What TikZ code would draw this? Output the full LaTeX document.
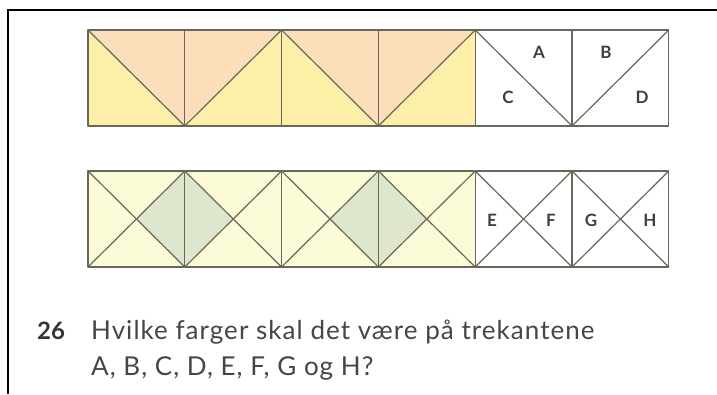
\documentclass[tikz,border=0pt]{standalone}
\usepackage{fontspec}
\setmainfont{Lato}
\definecolor{peach}{RGB}{251,222,186}
\definecolor{yel}{RGB}{253,238,168}
\definecolor{pale}{RGB}{252,251,216}
\definecolor{grn}{RGB}{222,231,206}
\definecolor{edge}{RGB}{105,103,90}
\definecolor{txt}{RGB}{70,70,70}
\tikzset{
  gridline/.style={draw=edge, line width=1.2pt, line join=round},
  lab/.style={font=\fontsize{17}{18}\selectfont\bfseries, text=txt!90!black, inner sep=0pt},
  qtext/.style={font=\fontsize{26}{30}\selectfont\addfontfeatures{LetterSpace=4}, text=txt, anchor=base west, inner sep=0pt},
}
\begin{document}
\begin{tikzpicture}[x=1pt,y=-1pt]
\useasboundingbox (0,0) rectangle (717,394);
\fill[white] (0,0) rectangle (717,394);
\draw[line width=2pt] (717,10) -- (8,10) -- (8,394);

% ---------- top row ----------
\fill[peach] (88,30) -- (184.8,30) -- (184.8,126) -- cycle;
\fill[yel]   (88,30) -- (88,126) -- (184.8,126) -- cycle;
\fill[peach] (184.8,30) -- (281.6,30) -- (184.8,126) -- cycle;
\fill[yel]   (184.8,126) -- (281.6,126) -- (281.6,30) -- cycle;
\fill[peach] (281.6,30) -- (378.4,30) -- (378.4,126) -- cycle;
\fill[yel]   (281.6,30) -- (281.6,126) -- (378.4,126) -- cycle;
\fill[peach] (378.4,30) -- (475.2,30) -- (378.4,126) -- cycle;
\fill[yel]   (378.4,126) -- (475.2,126) -- (475.2,30) -- cycle;

\draw[gridline] (88,30) rectangle (668.8,126);
\foreach \x in {184.8,281.6,378.4,475.2,572} \draw[gridline] (\x,30) -- (\x,126);
\draw[gridline] (88,30) -- (184.8,126) -- (281.6,30) -- (378.4,126) -- (475.2,30) -- (572,126) -- (668.8,30);

\node[lab] (A) at (539,52) {A};
\node[lab] (B) at (606,52) {B};
\node[lab] (C) at (508,97) {C};
\node[lab] (D) at (642,97) {D};

% ---------- bottom row ----------
\fill[pale] (88,171) rectangle (475.2,267);
\fill[grn] (184.8,171) -- (184.8,267) -- (136.4,219) -- cycle;
\fill[grn] (184.8,171) -- (184.8,267) -- (233.2,219) -- cycle;
\fill[grn] (378.4,171) -- (378.4,267) -- (330,219) -- cycle;
\fill[grn] (378.4,171) -- (378.4,267) -- (426.8,219) -- cycle;

\draw[gridline] (88,171) rectangle (668.8,267);
\foreach \x in {184.8,281.6,378.4,475.2,572} \draw[gridline] (\x,171) -- (\x,267);
\foreach \xa/\xb in {88/184.8,184.8/281.6,281.6/378.4,378.4/475.2,475.2/572,572/668.8}{
  \draw[gridline] (\xa,171) -- (\xb,267);
  \draw[gridline] (\xa,267) -- (\xb,171);
}

\node[lab] (E) at (492,220) {E};
\node[lab] (F) at (551,220) {F};
\node[lab] (G) at (591,220) {G};
\node[lab] (H) at (650,220) {H};

% ---------- question ----------
\node[qtext, font=\fontsize{24}{30}\selectfont\bfseries, text=txt!75!black] (num) at (37,339) {26};
\node[qtext] (q1) at (91,339) {Hvilke farger skal det være på trekantene};
\node[qtext] (q2) at (91,375) {A, B, C, D, E, F, G og H?};
\end{tikzpicture}
\end{document}
